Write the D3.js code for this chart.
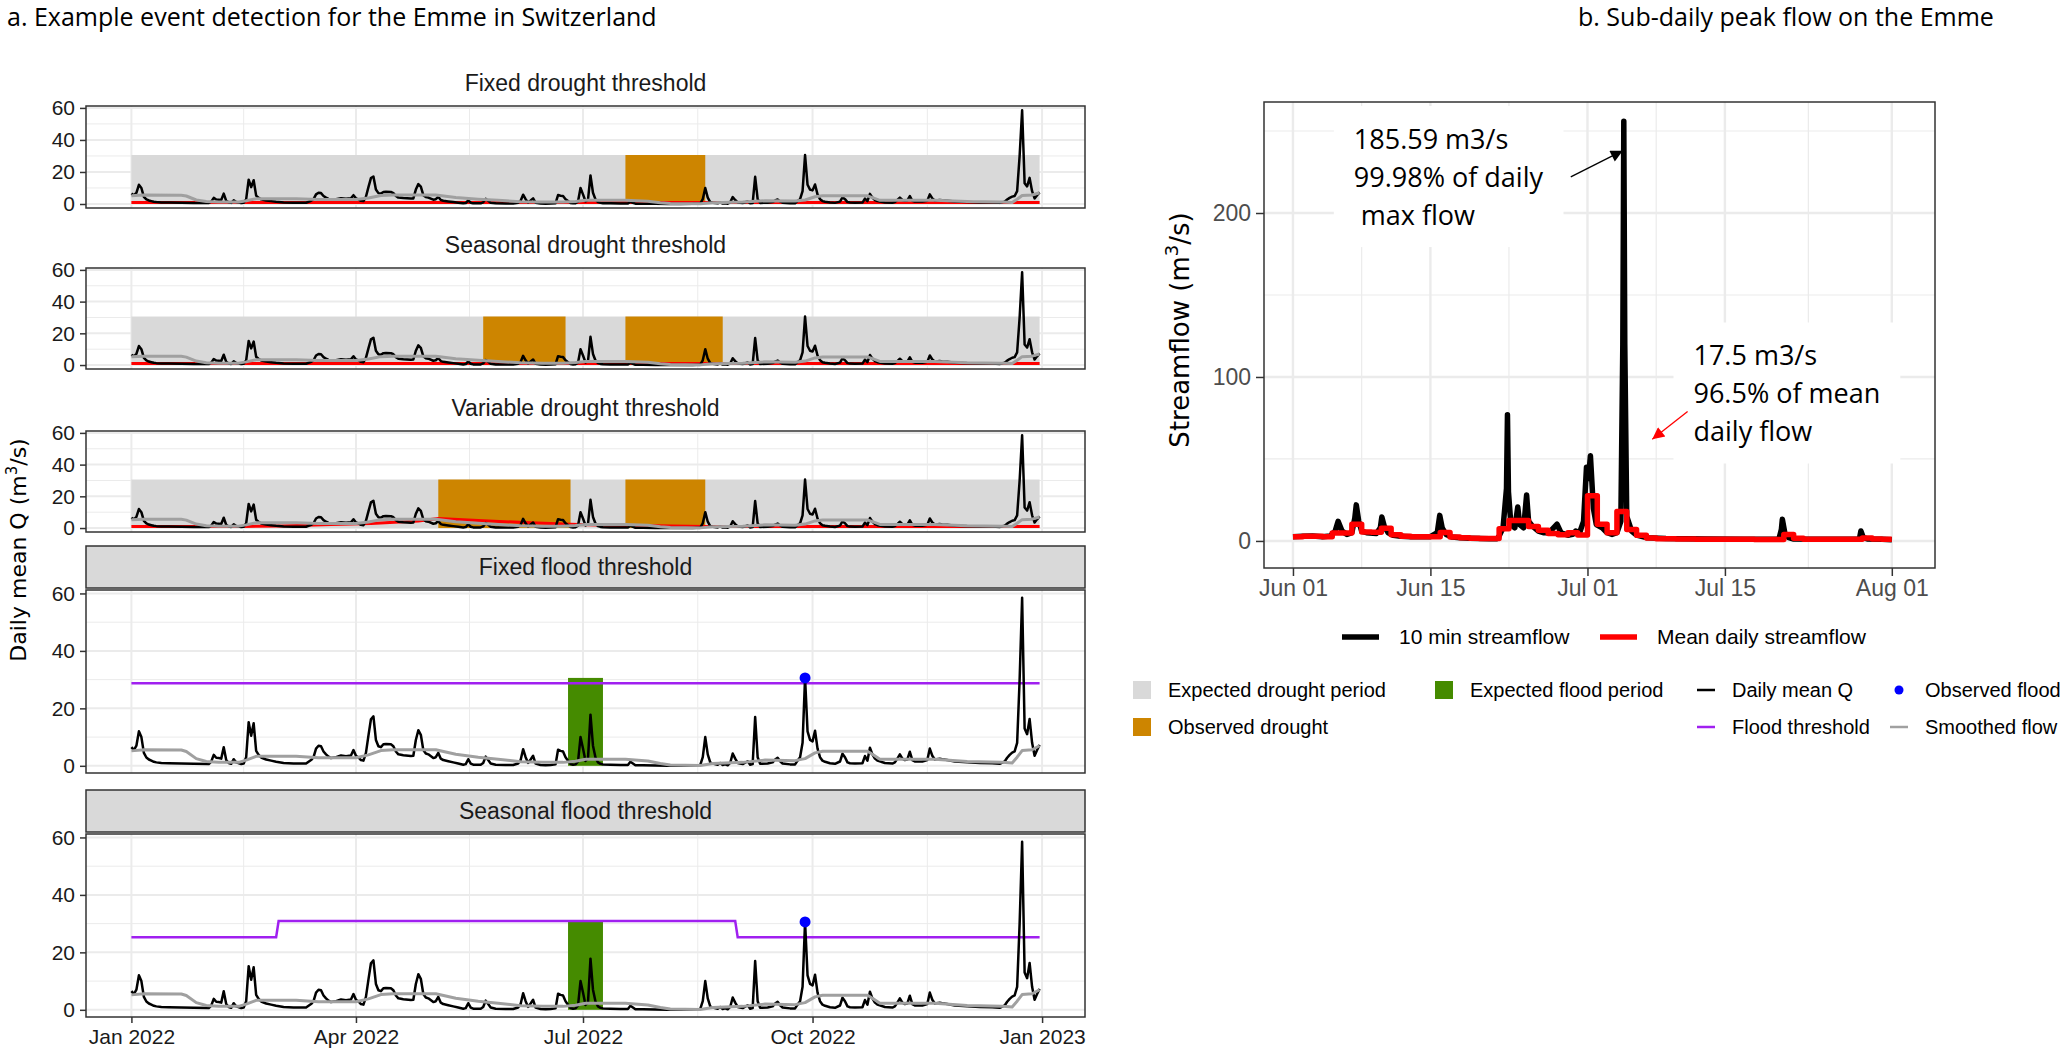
<!DOCTYPE html>
<html>
<head>
<meta charset="utf-8">
<script src="https://cdn.jsdelivr.net/npm/d3@7"></script>
<style>
body { margin: 0; background: #fff; }
svg { display: block; }
</style>
</head>
<body>
<div id="chart"></div>
<script>
// ---- data (days since 1 Jan 2022) ----
const dailyMeanQ = [
  [0,6.5],[1,5.5],[2,7.0],[3,12.0],[4,10.0],[5,4.5],[6,2.9],[7,2.2],[8,1.8],[9,1.4],[10,1.2],[12,1.0],
  [15,0.9],[20,0.8],[25,0.7],[31,0.6],[32,1.5],[33,3.8],[34,2.8],[35,2.7],[36,2.5],[37,6.5],[38,2.0],
  [39,1.0],[40,0.7],[41,2.3],[42,1.2],[44,0.6],[45,0.8],[46,3.0],[47,15.2],[48,10.5],[49,14.8],[50,5.2],
  [51,3.8],[52,2.9],[54,2.2],[56,1.8],[58,1.4],[61,1.0],[65,0.8],[70,0.8],[72,2.0],[73,3.0],[74,6.0],
  [75,7.0],[76,6.8],[77,5.0],[78,4.0],[79,3.2],[80,2.7],[82,3.0],[84,3.6],[86,3.3],[88,3.6],[89,5.5],
  [90,3.5],[91,2.9],[92,2.0],[93,1.8],[94,4.5],[95,10.5],[96,16.2],[97,17.2],[98,9.0],[99,6.8],[100,6.5],
  [101,7.5],[102,7.6],[104,7.5],[105,6.8],[106,5.0],[107,4.0],[109,3.7],[112,3.4],[113,3.5],[114,9.0],
  [115,12.4],[116,10.8],[117,5.5],[118,4.3],[119,4.0],[121,2.7],[122,3.0],[123,4.5],[124,2.5],[125,2.0],
  [127,1.6],[129,1.2],[131,0.8],[133,0.4],[134,0.6],[135,2.3],[136,0.8],[137,0.4],[140,0.4],[141,1.0],
  [142,3.2],[143,2.0],[144,0.8],[146,0.4],[150,0.3],[153,0.3],[155,0.8],[156,2.0],[157,5.8],[158,3.0],
  [159,1.0],[160,2.2],[161,3.5],[162,0.8],[164,0.3],[166,0.2],[168,0.3],[170,0.5],[171,5.6],[172,5.2],
  [173,5.0],[174,3.0],[175,1.8],[176,0.6],[177,0.4],[178,0.5],[179,1.5],[180,10.0],[181,6.0],[182,1.7],
  [183,2.5],[184,17.8],[185,7.0],[186,2.9],[187,1.2],[188,0.7],[189,0.5],[192,0.4],[196,0.3],[199,0.3],
  [200,1.4],[201,0.8],[202,0.2],[205,0.2],[210,0.1],[215,0.0],[220,0.0],[225,0.1],[228,0.3],[229,3.0],
  [230,10.0],[231,4.0],[232,1.2],[233,0.8],[235,0.4],[236,1.0],[237,0.3],[238,0.5],[239,0.2],[240,1.0],
  [241,4.3],[242,2.5],[243,1.0],[245,0.6],[247,1.6],[248,0.4],[249,0.6],[250,17.0],[251,3.0],[252,0.7],
  [255,0.8],[257,1.2],[258,2.2],[259,2.8],[260,1.6],[261,0.8],[264,0.5],[266,0.5],[267,1.8],[268,3.0],
  [269,8.0],[270,30.6],[271,12.0],[272,9.0],[273,8.5],[274,12.2],[275,6.0],[276,3.0],[277,1.8],[278,1.4],
  [280,0.9],[282,0.7],[284,1.5],[285,4.2],[286,3.0],[287,1.2],[288,0.9],[290,0.8],[293,0.9],[294,3.4],
  [295,1.8],[296,6.3],[297,4.0],[298,2.5],[299,1.8],[302,1.0],[305,0.8],[306,1.2],[307,2.5],[308,4.0],
  [309,2.5],[310,2.0],[311,2.2],[312,4.9],[313,2.0],[314,1.5],[317,1.5],[319,2.0],[320,6.0],[321,3.5],
  [322,2.2],[324,2.5],[325,2.3],[327,2.0],[330,1.5],[335,1.2],[340,1.0],[345,0.9],[348,0.7],[350,1.5],
  [351,2.8],[352,3.8],[353,4.6],[354,5.0],[355,8.0],[356,30.0],[357,58.5],[358,13.0],[359,11.0],
  [360,16.3],[361,8.0],[362,3.5],[363,5.5],[364,7.3]
];
const smoothedFlow = [
  [0,5.2],[5,5.6],[20,5.5],[22,5.0],[26,2.5],[30,1.5],[35,1.2],[43,1.2],[46,2.0],[50,3.3],[66,3.3],
  [75,2.8],[90,2.8],[95,3.8],[100,5.3],[105,5.6],[122,5.6],[126,4.8],[130,4.0],[139,3.0],[147,2.3],
  [156,1.4],[165,1.2],[173,1.2],[178,1.6],[182,2.3],[198,2.3],[207,1.7],[212,0.8],[216,0.3],[228,0.1],
  [233,0.8],[245,1.2],[254,2.0],[266,1.8],[270,2.5],[274,4.5],[277,5.1],[295,5.1],[297,4.0],[300,2.3],
  [322,2.3],[335,1.5],[349,1.2],[353,1.0],[355,3.0],[357,5.3],[361,5.6],[364,7.0]
];
const fixedDroughtThreshold = [[0,1.0],[364,1.0]];
const seasonalDroughtThreshold = [[0,0.9],[364,0.9]];
const variableDroughtThreshold = [
  [0,1.0],[45,1.0],[60,1.3],[80,2.2],[96,2.9],[115,4.4],[123,6.0],[139,4.7],[160,3.3],[176,2.4],
  [190,1.8],[210,1.4],[230,1.0],[250,1.0],[364,1.0]
];
const fixedFloodThreshold = [[0,28.7],[364,28.7]];
const seasonalFloodThreshold = [[0,25.3],[58,25.3],[59,30.9],[242,30.9],[243,25.3],[364,25.3]];
const expectedDrought = [[0,364,30.6]];
const expectedFlood = [[175,189,30.6]];
const fixedDroughtEvents = [[198,230,30.6]];
const seasonalDroughtEvents = [[141,174,30.6],[198,237,30.6]];
const variableDroughtEvents = [[123,176,30.6],[198,230,30.6]];
const observedFlood = [[270,30.6]];
const panelTitles = ['Fixed drought threshold','Seasonal drought threshold','Variable drought threshold',
                     'Fixed flood threshold','Seasonal flood threshold'];

// sub-daily panel (days since 1 Jun 2022)
const tenMinFlow = [
  [0,2.5],[1,2.8],[2,3.0],[3,2.5],[3.8,3.0],[4.3,6],[4.6,12],[5.0,6],[5.5,4],[6.0,5],[6.3,14],[6.45,22],
  [6.7,12],[7.0,6],[7.5,5],[8.5,4.5],[8.9,8],[9.05,14.6],[9.3,9],[9.7,5],[10.2,3.5],[11,2.8],[12,2.6],
  [13,2.5],[14,2.6],[14.7,5],[14.95,15.6],[15.2,8],[15.6,4],[16.2,2.4],[17,2.0],[18,1.7],[19,1.5],
  [20,1.4],[20.8,1.4],[21.0,3],[21.4,8],[21.75,32],[21.85,77],[21.95,30],[22.2,10],[22.6,8],[22.9,20.7],
  [23.1,10],[23.5,8],[23.8,28],[24.0,12],[24.4,9],[25,6],[25.5,5],[26.0,5],[26.4,7],[26.9,10.2],
  [27.3,5],[28,3.5],[28.5,4],[28.8,6],[29.2,5],[29.6,12],[29.9,45],[30.1,38],[30.3,52],[30.6,20],
  [30.9,10],[31.5,8],[32,5],[32.5,4],[33.0,5],[33.4,12],[33.6,120],[33.7,256],[33.8,120],[34.0,15],
  [34.5,6],[35,3.5],[36,2.0],[38,1.5],[42,1.2],[46,1.0],[49.5,1.1],[49.75,7],[49.85,13.2],[50.1,5],
  [50.5,2],[51,1.2],[55,1.0],[57.7,1.2],[57.85,6.1],[58.1,2],[58.5,1.2],[60,1.0],[61,0.8]
];
const meanDailyFlow = [
  2.6,2.8,2.8,2.6,4.8,4.8,10.2,5.5,5.3,7.8,3.8,2.8,2.6,2.5,2.6,5.2,2.4,1.9,1.7,1.5,1.5,
  7.5,12.5,12.5,8.8,6.5,4.5,3.8,5.0,3.6,27.5,10.2,5.0,18.0,7.0,3.5,1.8,1.4,1.3,1.2,1.2,
  1.1,1.1,1.0,1.0,1.0,1.0,0.9,0.9,0.9,4.0,1.6,1.0,1.0,1.0,1.0,1.0,1.0,1.8,1.2,1.0
];
const annotations = [
  {lines:['185.59 m3/s','99.98% of daily','\u00a0max flow'], tx:6.2, ty:239, from:[28.3,222], to:[33.6,238], color:'#000'},
  {lines:['17.5 m3/s','96.5% of mean','daily flow'], tx:40.8, ty:107, from:[40.2,79], to:[36.6,62], color:'#ff0000'}
];

// ---- setup ----
const sans = "'Liberation Sans', Arial, sans-serif";
const verd = "'DejaVu Sans', Verdana, sans-serif";
const open = "'Open Sans', 'Noto Sans', sans-serif";
const col = {grey:'#d9d9d9', orange:'#cd8500', green:'#458b00', red:'#ff0000', purple:'#a020f0',
             blue:'#0000ff', smooth:'#a0a0a0', grid:'#ebebeb', frame:'#333333'};

const svg = d3.select('#chart').append('svg').attr('width', 2067).attr('height', 1050)
  .style('font-family', sans);

const DAY = 864e5;
const jan1 = Date.UTC(2022, 0, 1);
const jun1 = Date.UTC(2022, 5, 1);
const dt = d => new Date(jan1 + d * DAY);
const dtR = d => new Date(jun1 + d * DAY);

svg.append('text').attr('x', 7).attr('y', 26).attr('font-family', open).attr('font-size', 25)
  .text('a. Example event detection for the Emme in Switzerland');
svg.append('text').attr('x', 1578).attr('y', 26).attr('font-family', open).attr('font-size', 25)
  .text('b. Sub-daily peak flow on the Emme');

// ---- left: five panels ----
const xL = d3.scaleUtc().domain([dt(-18.2), dt(382.2)]).range([86, 1085]);
const xMajorL = d3.utcMonth.every(3).range(dt(0), dt(366));
const xMinorL = d3.pairs(xMajorL).map(([a, b]) => new Date((+a + +b) / 2));

const panels = [
  {kind:'drought', top:106, h:102, thr:fixedDroughtThreshold, events:fixedDroughtEvents},
  {kind:'drought', top:268, h:101, thr:seasonalDroughtThreshold, events:seasonalDroughtEvents},
  {kind:'drought', top:431, h:101, thr:variableDroughtThreshold, events:variableDroughtEvents},
  {kind:'flood', top:590, h:183, thr:fixedFloodThreshold},
  {kind:'flood', top:834, h:183, thr:seasonalFloodThreshold}
];

panels.forEach((p, i) => {
  const top = p.top, bottom = p.top + p.h;
  const y = d3.scaleLinear().domain([-2.5, 61.2]).range([bottom, top]);
  const g = svg.append('g');
  const [x0, x1] = xL.range();

  if (p.kind === 'flood') {
    g.append('rect').attr('x', x0).attr('y', top - 44).attr('width', x1 - x0).attr('height', 42)
      .attr('fill', col.grey).attr('stroke', col.frame).attr('stroke-width', 1.5);
  }
  g.append('text').attr('x', (x0 + x1) / 2).attr('y', top - 23).attr('dy', '0.35em')
    .attr('text-anchor', 'middle').attr('font-size', 23).attr('fill', '#1a1a1a').text(panelTitles[i]);

  // grid
  g.selectAll('.ymin').data([10, 30, 50]).join('line')
    .attr('x1', x0).attr('x2', x1).attr('y1', d => y(d)).attr('y2', d => y(d))
    .attr('stroke', col.grid).attr('stroke-width', 1);
  g.selectAll('.xmin').data(xMinorL).join('line')
    .attr('x1', d => xL(d)).attr('x2', d => xL(d)).attr('y1', top).attr('y2', bottom)
    .attr('stroke', col.grid).attr('stroke-width', 1);
  g.selectAll('.ymaj').data([0, 20, 40, 60]).join('line')
    .attr('x1', x0).attr('x2', x1).attr('y1', d => y(d)).attr('y2', d => y(d))
    .attr('stroke', col.grid).attr('stroke-width', 2);
  g.selectAll('.xmaj').data(xMajorL).join('line')
    .attr('x1', d => xL(d)).attr('x2', d => xL(d)).attr('y1', top).attr('y2', bottom)
    .attr('stroke', col.grid).attr('stroke-width', 2);

  const rects = (data, fill) => g.append('g').selectAll('rect').data(data).join('rect')
    .attr('x', d => xL(dt(d[0]))).attr('width', d => xL(dt(d[1])) - xL(dt(d[0])))
    .attr('y', d => y(d[2])).attr('height', d => y(0) - y(d[2])).attr('fill', fill);

  const line = d3.line().x(d => xL(dt(d[0]))).y(d => y(d[1]));

  if (p.kind === 'drought') {
    rects(expectedDrought, col.grey);
    rects(p.events, col.orange);
    g.append('path').attr('d', line(p.thr)).attr('fill', 'none').attr('stroke', col.red).attr('stroke-width', 3);
  } else {
    rects(expectedFlood, col.green);
    g.append('path').attr('d', line(p.thr)).attr('fill', 'none').attr('stroke', col.purple).attr('stroke-width', 2.5);
  }
  g.append('path').attr('d', line(dailyMeanQ)).attr('fill', 'none').attr('stroke', '#000')
    .attr('stroke-width', 2.5).attr('stroke-linejoin', 'round');
  g.append('path').attr('d', line(smoothedFlow)).attr('fill', 'none').attr('stroke', col.smooth)
    .attr('stroke-width', 3).attr('stroke-linejoin', 'round');
  if (p.kind === 'flood') {
    g.selectAll('circle').data(observedFlood).join('circle')
      .attr('cx', d => xL(dt(d[0]))).attr('cy', d => y(d[1])).attr('r', 5.5).attr('fill', col.blue);
  }

  g.append('rect').attr('x', x0).attr('y', top).attr('width', x1 - x0).attr('height', bottom - top)
    .attr('fill', 'none').attr('stroke', col.frame).attr('stroke-width', 1.5);

  const ya = g.append('g').attr('transform', `translate(${x0},0)`)
    .call(d3.axisLeft(y).tickValues([0, 20, 40, 60]).tickSize(6).tickPadding(5));
  ya.select('.domain').remove();
  ya.selectAll('line').attr('stroke', col.frame).attr('stroke-width', 1.5);
  ya.selectAll('text').attr('font-size', 21).attr('font-family', sans).attr('fill', '#1a1a1a');

  if (i === panels.length - 1) {
    const xa = g.append('g').attr('transform', `translate(0,${bottom})`)
      .call(d3.axisBottom(xL).tickValues(xMajorL).tickFormat(d3.utcFormat('%b %Y')).tickSize(6).tickPadding(6));
    xa.select('.domain').remove();
    xa.selectAll('line').attr('stroke', col.frame).attr('stroke-width', 1.5);
    xa.selectAll('text').attr('font-size', 21).attr('font-family', sans).attr('fill', '#1a1a1a');
  }
});

svg.append('text').attr('transform', 'translate(26,550) rotate(-90)').attr('text-anchor', 'middle')
  .attr('font-family', verd).attr('font-size', 22)
  .call(t => {
    t.append('tspan').text('Daily mean Q (m');
    t.append('tspan').attr('font-size', 15).attr('dy', -9).text('3');
    t.append('tspan').attr('dy', 9).text('/s)');
  });

// ---- right: sub-daily panel ----
const xR = d3.scaleUtc().domain([dtR(-2.95), dtR(65.4)]).range([1264, 1935]);
const yR = d3.scaleLinear().domain([-16.5, 267.7]).range([568, 102]);
const xMajorR = [dtR(0), dtR(14), dtR(30), dtR(44), dtR(61)];
const xMinorR = d3.pairs(xMajorR).map(([a, b]) => new Date((+a + +b) / 2));
const gR = svg.append('g');
const [rx0, rx1] = xR.range(), [ry1, ry0] = yR.range();

gR.selectAll('.ymin').data([50, 150, 250]).join('line')
  .attr('x1', rx0).attr('x2', rx1).attr('y1', d => yR(d)).attr('y2', d => yR(d))
  .attr('stroke', col.grid).attr('stroke-width', 1.2);
gR.selectAll('.xmin').data(xMinorR).join('line')
  .attr('x1', d => xR(d)).attr('x2', d => xR(d)).attr('y1', ry0).attr('y2', ry1)
  .attr('stroke', col.grid).attr('stroke-width', 1.2);
gR.selectAll('.ymaj').data([0, 100, 200]).join('line')
  .attr('x1', rx0).attr('x2', rx1).attr('y1', d => yR(d)).attr('y2', d => yR(d))
  .attr('stroke', col.grid).attr('stroke-width', 2.4);
gR.selectAll('.xmaj').data(xMajorR).join('line')
  .attr('x1', d => xR(d)).attr('x2', d => xR(d)).attr('y1', ry0).attr('y2', ry1)
  .attr('stroke', col.grid).attr('stroke-width', 2.4);

const lineR = d3.line().x(d => xR(dtR(d[0]))).y(d => yR(d[1]));
gR.append('path').attr('d', lineR(tenMinFlow)).attr('fill', 'none').attr('stroke', '#000')
  .attr('stroke-width', 5.5).attr('stroke-linejoin', 'round');
const dailySteps = meanDailyFlow.map((v, i) => [i, v]).concat([[meanDailyFlow.length, meanDailyFlow[meanDailyFlow.length - 1]]]);
gR.append('path').attr('d', lineR.curve(d3.curveStepAfter)(dailySteps)).attr('fill', 'none')
  .attr('stroke', col.red).attr('stroke-width', 5.5).attr('stroke-linejoin', 'round');
lineR.curve(d3.curveLinear);

// annotations with white label boxes
const defs = svg.append('defs');
annotations.forEach((a, k) => {
  defs.append('marker').attr('id', 'head' + k).attr('markerUnits', 'userSpaceOnUse')
    .attr('viewBox', '0 0 10 10').attr('refX', 10).attr('refY', 5)
    .attr('markerWidth', 14).attr('markerHeight', 12).attr('orient', 'auto')
    .append('path').attr('d', 'M0,0L10,5L0,10Z').attr('fill', a.color);
  const ga = gR.append('g');
  const box = ga.append('rect').attr('fill', '#fff');
  const tx = ga.append('text').attr('font-family', open).attr('font-size', 27).attr('fill', '#000');
  a.lines.forEach((s, j) => tx.append('tspan').attr('x', xR(dtR(a.tx))).attr('y', yR(a.ty) + j * 38).text(s));
  const bb = tx.node().getBBox();
  box.attr('x', bb.x - 20).attr('y', bb.y - 14).attr('width', bb.width + 40).attr('height', bb.height + 28);
  ga.append('line').attr('x1', xR(dtR(a.from[0]))).attr('y1', yR(a.from[1]))
    .attr('x2', xR(dtR(a.to[0]))).attr('y2', yR(a.to[1]))
    .attr('stroke', a.color).attr('stroke-width', 1.3).attr('marker-end', `url(#head${k})`);
});

gR.append('rect').attr('x', rx0).attr('y', ry0).attr('width', rx1 - rx0).attr('height', ry1 - ry0)
  .attr('fill', 'none').attr('stroke', col.frame).attr('stroke-width', 1.5);

const yaR = gR.append('g').attr('transform', `translate(${rx0},0)`)
  .call(d3.axisLeft(yR).tickValues([0, 100, 200]).tickSize(8).tickPadding(5));
yaR.select('.domain').remove();
yaR.selectAll('line').attr('stroke', col.frame).attr('stroke-width', 1.5);
yaR.selectAll('text').attr('font-size', 23).attr('font-family', sans).attr('fill', '#4d4d4d');
const xaR = gR.append('g').attr('transform', `translate(0,${ry1})`)
  .call(d3.axisBottom(xR).tickValues(xMajorR).tickFormat(d3.utcFormat('%b %d')).tickSize(8).tickPadding(4));
xaR.select('.domain').remove();
xaR.selectAll('line').attr('stroke', col.frame).attr('stroke-width', 1.5);
xaR.selectAll('text').attr('font-size', 23).attr('font-family', sans).attr('fill', '#4d4d4d');

svg.append('text').attr('transform', 'translate(1189,330) rotate(-90)').attr('text-anchor', 'middle')
  .attr('font-family', verd).attr('font-size', 26)
  .call(t => {
    t.append('tspan').text('Streamflow (m');
    t.append('tspan').attr('font-size', 18).attr('dy', -11).text('3');
    t.append('tspan').attr('dy', 11).text('/s)');
  });

// ---- legends ----
const legTop = [
  {label:'10 min streamflow', color:'#000', x:1342},
  {label:'Mean daily streamflow', color:col.red, x:1600}
];
legTop.forEach(d => {
  svg.append('line').attr('x1', d.x).attr('x2', d.x + 37).attr('y1', 637).attr('y2', 637)
    .attr('stroke', d.color).attr('stroke-width', 5.5);
  svg.append('text').attr('x', d.x + 57).attr('y', 637).attr('dy', '0.35em').attr('font-size', 21).text(d.label);
});

const legBottom = [
  {label:'Expected drought period', type:'rect', color:col.grey, x:1133, y:690},
  {label:'Observed drought', type:'rect', color:col.orange, x:1133, y:727},
  {label:'Expected flood period', type:'rect', color:col.green, x:1435, y:690},
  {label:'Daily mean Q', type:'line', color:'#000', x:1697, y:690},
  {label:'Flood threshold', type:'line', color:col.purple, x:1697, y:727},
  {label:'Observed flood', type:'point', color:col.blue, x:1890, y:690},
  {label:'Smoothed flow', type:'line', color:col.smooth, x:1890, y:727}
];
legBottom.forEach(d => {
  if (d.type === 'rect') {
    svg.append('rect').attr('x', d.x).attr('y', d.y - 9).attr('width', 18).attr('height', 18).attr('fill', d.color);
  } else if (d.type === 'line') {
    svg.append('line').attr('x1', d.x).attr('x2', d.x + 18).attr('y1', d.y).attr('y2', d.y)
      .attr('stroke', d.color).attr('stroke-width', 2.5);
  } else {
    svg.append('circle').attr('cx', d.x + 9).attr('cy', d.y).attr('r', 4.5).attr('fill', d.color);
  }
  svg.append('text').attr('x', d.x + 35).attr('y', d.y).attr('dy', '0.35em').attr('font-size', 20).text(d.label);
});
</script>
</body>
</html>
